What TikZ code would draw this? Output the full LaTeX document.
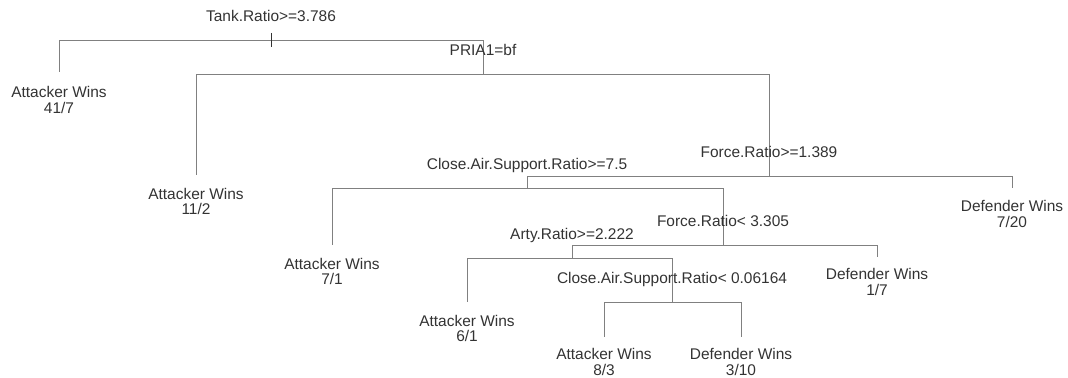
\documentclass[tikz,border=0pt]{standalone}
\usepackage{fontspec}
\setmainfont{Liberation Sans}
\usetikzlibrary{positioning}

\tikzset{
  branch/.style={gray, line width=0.7pt},
  split/.style={inner sep=0pt, text height=8.5pt, text depth=2.5pt,
    font=\fontsize{11.6}{13}\selectfont, text=black!80},
  leaf/.style={inner sep=0pt, align=center,
    font=\fontsize{11.6}{11.8}\selectfont, text=black!80}
}

\begin{document}
\begin{tikzpicture}[x=0.75pt, y=-0.75pt]
  \useasboundingbox (0,0) rectangle (1068,378);

  % Split points
  \coordinate (root) at (271,40);
  \coordinate (pria) at (483,74);
  \coordinate (force1) at (769,176);
  \coordinate (cas1) at (527,188);
  \coordinate (force2) at (723,245);
  \coordinate (arty) at (572,258);
  \coordinate (cas2) at (672,302);

  % Leaf ends
  \coordinate (e1) at (59,72);
  \coordinate (e2) at (196,175);
  \coordinate (e3) at (1012,188);
  \coordinate (e4) at (332,245);
  \coordinate (e5) at (877,257);
  \coordinate (e6) at (467,302);
  \coordinate (e7) at (604,337);
  \coordinate (e8) at (741,337);

  % Branches
  \draw[branch] (root) -| (e1) (root) -| (pria);
  \draw[branch] (pria) -| (e2) (pria) -| (force1);
  \draw[branch] (force1) -| (cas1) (force1) -| (e3);
  \draw[branch] (cas1) -| (e4) (cas1) -| (force2);
  \draw[branch] (force2) -| (arty) (force2) -| (e5);
  \draw[branch] (arty) -| (e6) (arty) -| (cas2);
  \draw[branch] (cas2) -| (e7) (cas2) -| (e8);
  \draw[black!80, line width=0.7pt] (root) ++(0,-7) -- ++(0,14);

  % Split labels
  \node[split, above=11pt of root] (s1) {Tank.Ratio>=3.786};
  \node[split, above=11pt of pria] (s2) {PRIA1=bf};
  \node[split, above=11pt of force1] (s3) {Force.Ratio>=1.389};
  \node[split, above=11pt of cas1] (s4) {Close.Air.Support.Ratio>=7.5};
  \node[split, above=11pt of force2] (s5) {Force.Ratio< 3.305};
  \node[split, above=11pt of arty] (s6) {Arty.Ratio>=2.222};
  \node[split, above=11pt of cas2] (s7) {Close.Air.Support.Ratio< 0.06164};

  % Leaves
  \node[leaf, below=10.5pt of e1] (l1) {Attacker Wins\\41/7};
  \node[leaf, below=9.5pt of e2] (l2) {Attacker Wins\\11/2};
  \node[leaf, below=9pt of e3] (l3) {Defender Wins\\7/20};
  \node[leaf, below=9.5pt of e4] (l4) {Attacker Wins\\7/1};
  \node[leaf, below=8.5pt of e5] (l5) {Defender Wins\\1/7};
  \node[leaf, below=9.5pt of e6] (l6) {Attacker Wins\\6/1};
  \node[leaf, below=8.5pt of e7] (l7) {Attacker Wins\\8/3};
  \node[leaf, below=8.5pt of e8] (l8) {Defender Wins\\3/10};
\end{tikzpicture}
\end{document}
